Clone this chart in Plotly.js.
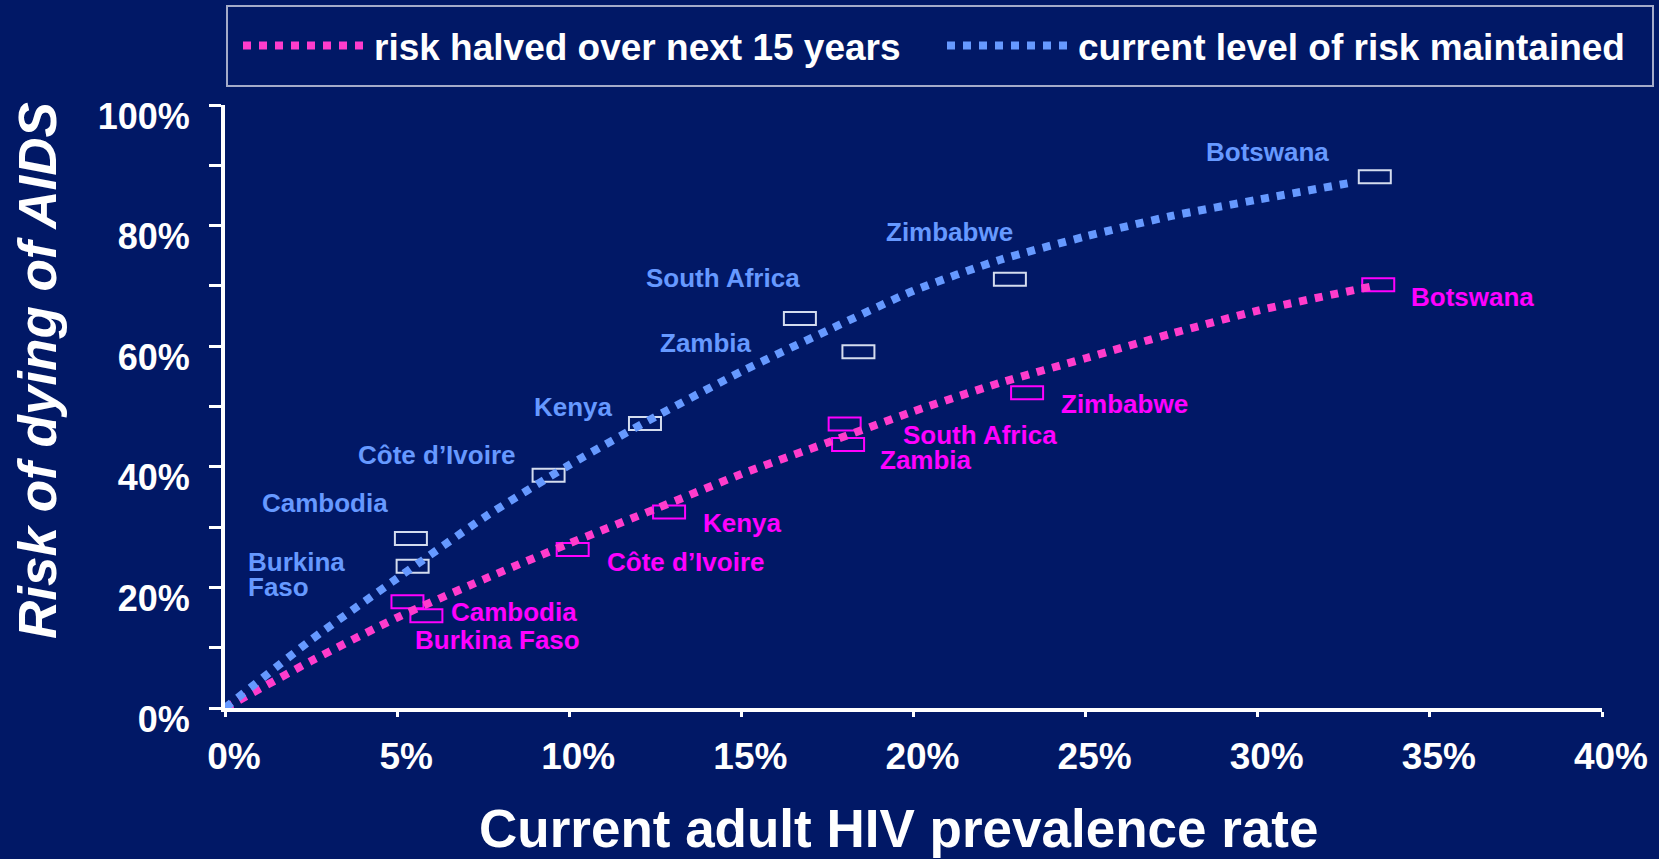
<!DOCTYPE html>
<html><head><meta charset="utf-8">
<script src="https://cdn.plot.ly/plotly-3.0.1.min.js"></script>
<style>html,body{margin:0;padding:0;background:#011866;}#chart{width:1659px;height:859px;}</style>
</head><body><div id="chart"></div>
<script>
// ---- data (percent) ----
const curvePrevalenceMaintained = [0, 2.5, 5, 7.5, 10, 12.5, 15, 17.5, 20, 22.5, 25, 27.5, 30, 32.8];
const riskMaintained = [0, 11.3, 21.5, 31.5, 40.3, 48.3, 55.8, 62.6, 69.2, 74.3, 78.2, 81.6, 84.3, 87.2];
const curvePrevalenceHalved = [0, 2.5, 5, 7.5, 10, 12.5, 15, 17.5, 20, 22.5, 25, 27.5, 30, 33.3];
const riskHalved = [0, 7.8, 15.0, 21.3, 27.3, 33.0, 38.8, 44.0, 49.2, 53.9, 58.0, 62.1, 65.9, 69.9];

const countries = ['Botswana', 'Zimbabwe', 'South Africa', 'Zambia', 'Kenya', 'Côte d’Ivoire', 'Cambodia', 'Burkina Faso'];
const maintainedLabels = ['Botswana', 'Zimbabwe', 'South Africa', 'Zambia', 'Kenya', 'Côte d’Ivoire', 'Cambodia', 'Burkina<br>Faso'];
const maintainedX = [33.4, 22.8, 16.7, 18.4, 12.2, 9.4, 5.4, 5.45];
const maintainedY = [88.1, 71.1, 64.6, 59.1, 47.2, 38.6, 28.1, 23.5];
const halvedX = [33.5, 23.3, 18.0, 18.1, 12.9, 10.1, 5.3, 5.85];
const halvedY = [70.2, 52.3, 47.1, 43.7, 32.5, 26.3, 17.6, 15.3];

const seriesNames = ['risk halved over next 15 years', 'current level of risk maintained'];
const xTickVals = [0, 5, 10, 15, 20, 25, 30, 35, 40];
const xTickText = ['0%', '5%', '10%', '15%', '20%', '25%', '30%', '35%', '40%'];
const yTickVals = [0, 10, 20, 30, 40, 50, 60, 70, 80, 90, 100];
const yTickText = ['0%', '', '20%', '', '40%', '', '60%', '', '80%', '', '100%'];
const xTitle = 'Current adult HIV prevalence rate';
const yTitle = 'Risk of dying of AIDS';

// ---- styles ----
const BG = '#011866';
const BLUE = '#6699ff';
const PINK_LINE = '#ff3ccc';
const PINK_TEXT = '#ff00ff';
const BOX_BLUE = '#d4dcee';
const FONT = 'Liberation Sans, Arial, sans-serif';
const DOTS = '8px,8px';
const LABEL_SIZE = 26;
const LINE_STEP = 25;
// label pixel offsets [dx, dy(up)] and anchors
const maintainedShift = [[-107, 25], [-60, 47], [-77, 40], [-152, 9], [-71, 16], [-112, 20], [-86, 36], [-167, 4]];
const maintainedAnchor = ['center', 'center', 'center', 'center', 'center', 'center', 'center', 'left'];
const halvedShift = [[94, -12], [97, -11], [135, -11], [78, -16], [73, -11], [113, -13], [107, -10], [71, -24]];

const W = 1659, H = 859;
const M = {l: 225, r: W - 1602, t: 105, b: H - 708, autoexpand: false};
const plotW = W - M.l - M.r, plotH = H - M.t - M.b;
const px2paperX = p => (p - M.l) / plotW;
const px2paperY = p => (H - M.b - p) / plotH;

const traces = [
  {x: curvePrevalenceHalved, y: riskHalved, name: seriesNames[0], type: 'scatter', mode: 'lines', legend: 'legend',
   line: {color: PINK_LINE, width: 8, dash: DOTS, shape: 'spline', smoothing: 0.6}, hoverinfo: 'skip'},
  {x: curvePrevalenceMaintained, y: riskMaintained, name: seriesNames[1], type: 'scatter', mode: 'lines', legend: 'legend2',
   line: {color: BLUE, width: 8, dash: DOTS, shape: 'spline', smoothing: 0.6}, hoverinfo: 'skip'}
];

const shapes = [];
const boxOf = (x, y, color) => ({type: 'rect', xref: 'x', yref: 'y', xsizemode: 'pixel', ysizemode: 'pixel',
  xanchor: x, yanchor: y, x0: -16, x1: 16, y0: -6.5, y1: 6.5, line: {color: color, width: 2}, layer: 'below'});
maintainedX.forEach((x, i) => shapes.push(boxOf(x, maintainedY[i], BOX_BLUE)));
halvedX.forEach((x, i) => shapes.push(boxOf(x, halvedY[i], PINK_TEXT)));
// legend frame
shapes.push({type: 'rect', xref: 'paper', yref: 'paper', x0: px2paperX(227), x1: px2paperX(1653),
  y0: px2paperY(86), y1: px2paperY(6), line: {color: '#a4abc9', width: 2}});

const annotations = [];
maintainedX.forEach((x, i) => {
  const lines = maintainedLabels[i].split('<br>');
  lines.forEach((t, k) => annotations.push({x: x, y: maintainedY[i], xref: 'x', yref: 'y', text: t,
    showarrow: false, xanchor: maintainedAnchor[i], yanchor: 'middle', align: 'left',
    xshift: maintainedShift[i][0], yshift: maintainedShift[i][1] - k * LINE_STEP,
    font: {family: FONT, size: LABEL_SIZE, color: BLUE, weight: 'bold'}}));
});
halvedX.forEach((x, i) => annotations.push({x: x, y: halvedY[i], xref: 'x', yref: 'y', text: countries[i],
  showarrow: false, xanchor: 'center', yanchor: 'middle',
  xshift: halvedShift[i][0], yshift: halvedShift[i][1],
  font: {family: FONT, size: LABEL_SIZE, color: PINK_TEXT, weight: 'bold'}}));
// axis titles
annotations.push({xref: 'paper', yref: 'paper', x: px2paperX(898), y: px2paperY(828), text: xTitle,
  showarrow: false, xanchor: 'center', yanchor: 'middle',
  font: {family: FONT, size: 53, color: '#ffffff', weight: 'bold'}});
annotations.push({xref: 'paper', yref: 'paper', x: px2paperX(37), y: px2paperY(371), text: yTitle,
  showarrow: false, xanchor: 'center', yanchor: 'middle', textangle: -90,
  font: {family: FONT, size: 53, color: '#ffffff', weight: 'bold', style: 'italic'}});

const legendBase = {orientation: 'h', xanchor: 'left', y: px2paperY(46), yanchor: 'middle',
  bgcolor: 'rgba(0,0,0,0)', borderwidth: 0, itemwidth: 126,
  font: {family: FONT, size: 37, color: '#ffffff', weight: 'bold'}};

const layout = {
  width: W, height: H, margin: M,
  paper_bgcolor: BG, plot_bgcolor: BG,
  font: {family: FONT, color: '#ffffff'},
  showlegend: true,
  legend: Object.assign({}, legendBase, {x: px2paperX(238)}),
  legend2: Object.assign({}, legendBase, {x: px2paperX(942)}),
  xaxis: {range: [0, 40], tickvals: xTickVals, ticktext: xTickText, showgrid: false, zeroline: false,
    showline: true, linecolor: '#ffffff', linewidth: 4, ticks: 'outside', ticklen: 5, tickwidth: 3, tickcolor: '#ffffff',
    ticklabelshift: 9, ticklabelstandoff: 8,
    tickfont: {family: FONT, size: 37, color: '#ffffff', weight: 'bold'},
    fixedrange: true},
  yaxis: {range: [0, 100], tickvals: yTickVals, ticktext: yTickText, showgrid: false, zeroline: false,
    showline: true, linecolor: '#ffffff', linewidth: 4, ticks: 'outside', ticklen: 12, tickwidth: 3, tickcolor: '#ffffff',
    ticklabelshift: 11, ticklabelstandoff: 12,
    tickfont: {family: FONT, size: 36, color: '#ffffff', weight: 'bold'},
    fixedrange: true},
  shapes: shapes,
  annotations: annotations
};

Plotly.newPlot('chart', traces, layout, {displayModeBar: false, staticPlot: true});
</script>
</body></html>
